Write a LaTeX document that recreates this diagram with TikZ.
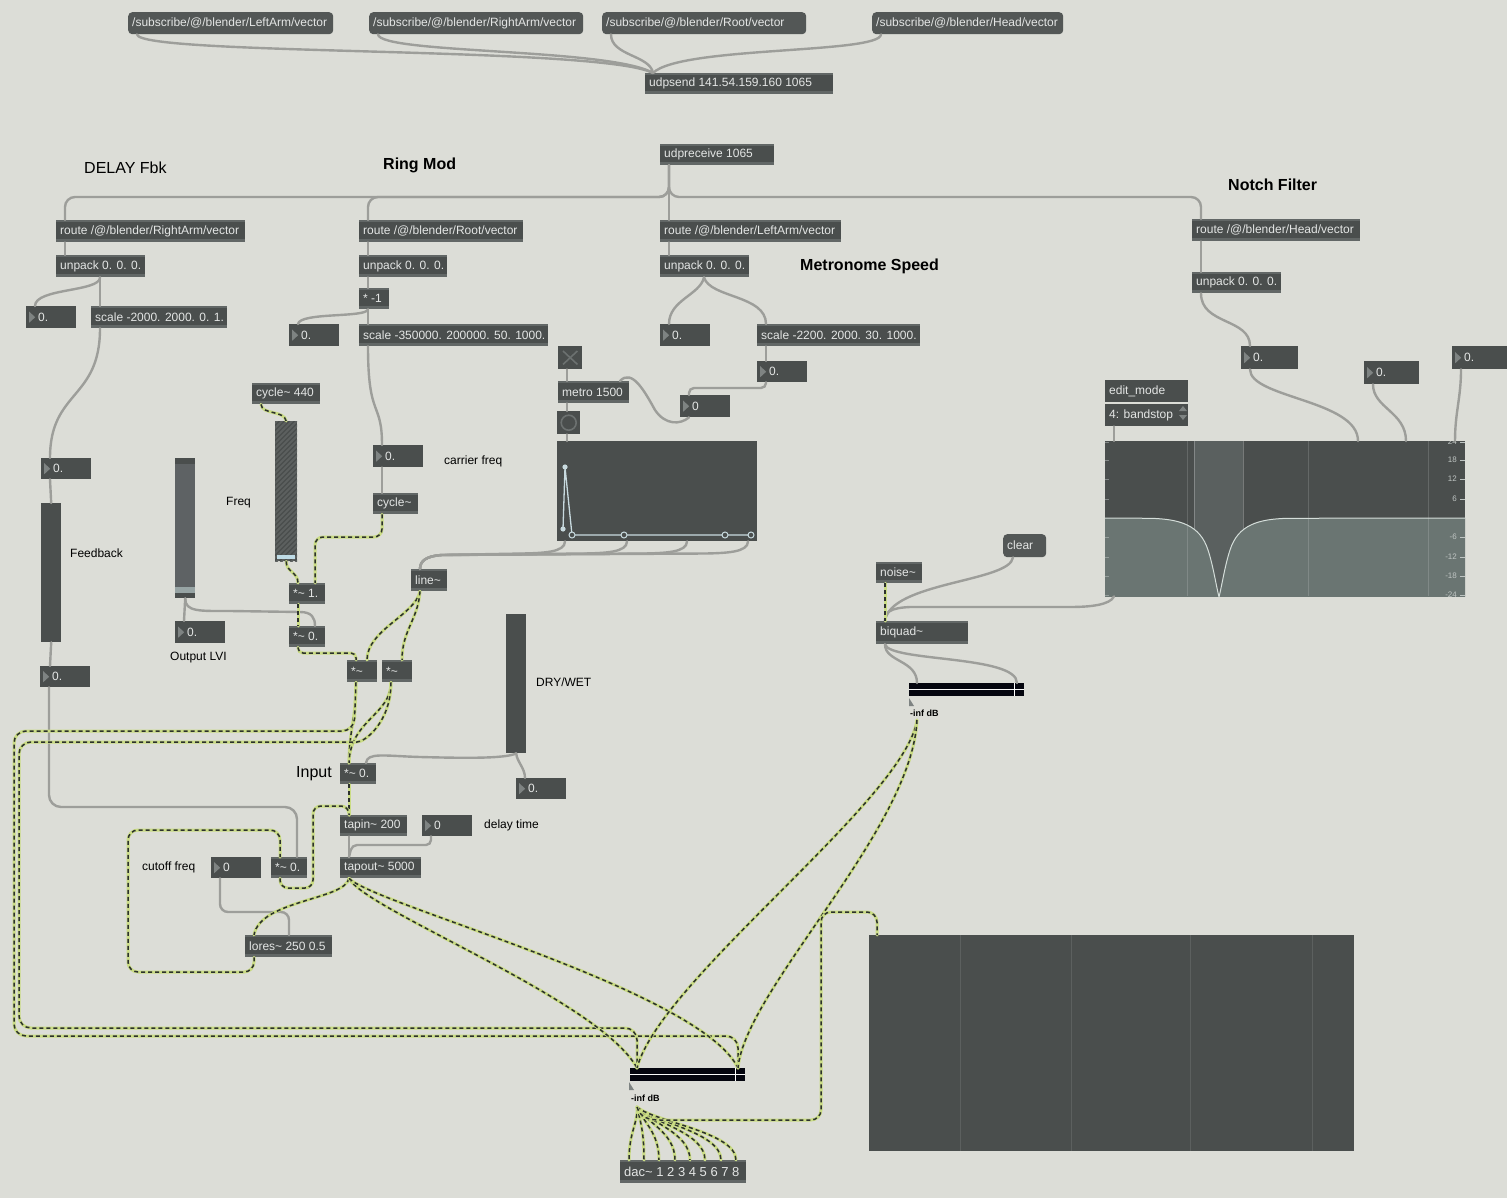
\documentclass[tikz,border=0pt]{standalone}
\usepackage{fontspec}
\setmainfont{Liberation Sans}
\definecolor{bgc}{HTML}{DCDDD7}
\definecolor{objc}{HTML}{4A4E4D}
\definecolor{stripc}{HTML}{626766}
\definecolor{msgc}{HTML}{535756}
\definecolor{txtc}{HTML}{E4E6E5}
\definecolor{tric}{HTML}{7E8382}
\definecolor{cordc}{HTML}{9D9E9A}
\definecolor{sigl}{HTML}{CADC84}
\definecolor{sigd}{HTML}{2C312D}
\definecolor{xc}{HTML}{6C7170}
\definecolor{mbar}{HTML}{05060F}
\definecolor{fgband}{HTML}{5A605F}
\definecolor{fglow}{HTML}{6A7572}
\definecolor{fgcurve}{HTML}{D5DEDA}
\definecolor{fglab}{HTML}{BFC5C3}
\definecolor{ptc}{HTML}{C8DADF}
\definecolor{slbody}{HTML}{5E6264}
\definecolor{slthumb}{HTML}{97A4A4}
\definecolor{thumbb}{HTML}{BFDCE6}
\definecolor{stripe}{HTML}{5C605F}
\definecolor{gridc}{HTML}{5C6261}
\newcommand\objfont{\fontsize{12}{14}\selectfont}
\newcommand\tld{\char`\~}
\tikzset{
 obj/.style={anchor=north west, inner sep=0pt, fill=objc, path picture={
   \fill[stripc] (path picture bounding box.north west) rectangle ([yshift=-2pt]path picture bounding box.north east);
   \fill[stripc] ([yshift=3pt]path picture bounding box.south west) rectangle (path picture bounding box.south east);}},
 num/.style={anchor=north west, inner sep=0pt, fill=objc, path picture={
   \fill[tric] ([xshift=3pt,yshift=5.5pt]path picture bounding box.west) -- ++(6pt,-5.5pt) -- ++(-6pt,-5.5pt) -- cycle;}},
 msg/.style={anchor=north west, inner sep=0pt, fill=msgc, rounded corners=4pt},
 plain/.style={anchor=north west, inner sep=0pt, fill=objc},
 otxt/.style={anchor=west, text=txtc, font=\objfont, inner xsep=4pt, inner ysep=0pt},
 ntxt/.style={otxt, xshift=8pt},
 cmt/.style={anchor=west, inner sep=0pt, text=black, font=\objfont},
 big/.style={cmt, font=\fontsize{16}{19}\selectfont},
 bigb/.style={cmt, font=\fontsize{16}{19}\selectfont\bfseries},
 dbl/.style={cmt, font=\fontsize{9}{10}\selectfont\bfseries},
 pc/.style={draw=cordc, line width=2.4pt, line cap=round},
 sig/.style={draw=sigl, line width=3pt, line cap=round, postaction={draw=sigd, line width=1.5pt, dash pattern=on 4pt off 3pt, line cap=butt}},
}
\newcommand\Obj[6]{\node[obj,minimum width=#4pt,minimum height=#5pt,label={[otxt]west:{#6}}] (#1) at (#2,#3) {};}
\newcommand\Num[6]{\node[num,minimum width=#4pt,minimum height=#5pt,label={[ntxt]west:{#6}}] (#1) at (#2,#3) {};}
\newcommand\Msg[6]{\node[msg,minimum width=#4pt,minimum height=#5pt,label={[otxt]west:{#6}}] (#1) at (#2,#3) {};}
\newcommand\PlT[6]{\node[plain,minimum width=#4pt,minimum height=#5pt,label={[otxt]west:{#6}}] (#1) at (#2,#3) {};}
\newcommand\Pl[5]{\node[plain,minimum width=#4pt,minimum height=#5pt] (#1) at (#2,#3) {};}
\begin{document}
\begin{tikzpicture}[x=1pt,y=-1pt]
\useasboundingbox (0,0) rectangle (1507,1198);
\fill[bgc] (0,0) rectangle (1507,1198);

% ---------- comments
\node[big] (lDelay) at (84,168) {DELAY Fbk};
\node[bigb] (lRing) at (383,165) {Ring Mod};
\node[bigb] (lMetro) at (800,266) {Metronome Speed};
\node[bigb] (lNotch) at (1228,185) {Notch Filter};
\node[cmt] (lFb) at (70,553) {Feedback};
\node[cmt] (lFreq) at (226,503) {Freq};
\node[cmt] (lOut) at (170,658) {Output LVI};
\node[cmt] (lCar) at (444,461) {carrier freq};
\node[cmt] (lDW) at (536,682) {DRY/WET};
\node[big] (lIn) at (296,774) {Input};
\node[cmt] (lDel) at (484,825) {delay time};
\node[cmt] (lCut) at (142,867) {cutoff freq};

% ---------- top
\Msg{m1}{128}{12}{205}{22}{/subscribe/@/blender/LeftArm/vector}
\Msg{m2}{369}{12}{214}{22}{/subscribe/@/blender/RightArm/vector}
\Msg{m3}{602}{12}{204}{22}{/subscribe/@/blender/Root/vector}
\Msg{m4}{872}{12}{191}{22}{/subscribe/@/blender/Head/vector}
\Obj{udps}{645}{73}{188}{21}{udpsend 141.54.159.160 1065}
\Obj{udpr}{660}{144}{114}{21}{udpreceive 1065}
\Obj{r1}{56}{220}{189}{22}{route /@/blender/RightArm/vector}
\Obj{r2}{359}{220}{164}{22}{route /@/blender/Root/vector}
\Obj{r3}{660}{220}{181}{22}{route /@/blender/LeftArm/vector}
\Obj{r4}{1192}{219}{168}{22}{route /@/blender/Head/vector}
\Obj{u1}{56}{255}{89}{22}{unpack 0. 0. 0.}
\Obj{u2}{359}{255}{88}{22}{unpack 0. 0. 0.}
\Obj{u3}{660}{255}{89}{22}{unpack 0. 0. 0.}
\Obj{u4}{1192}{272}{89}{21}{unpack 0. 0. 0.}

% ---------- delay column
\Num{nL}{26}{306}{50}{22}{0.}
\Obj{sc1}{91}{306}{136}{22}{scale -2000. 2000. 0. 1.}
\Num{nFb1}{41}{458}{50}{21}{0.}
\Pl{slFb}{41}{503}{20}{139}
\Num{nFb2}{40}{666}{50}{21}{0.}

% ---------- ring mod
\Obj{neg}{359}{288}{30}{21}{* -1}
\Num{nR}{289}{324}{50}{22}{0.}
\Obj{sc2}{359}{324}{189}{22}{scale -350000. 200000. 50. 1000.}
\Num{nCar}{373}{445}{50}{22}{0.}
\Obj{cyc}{373}{493}{45}{21}{cycle\tld}
\Obj{cyc440}{252}{383}{68}{21}{cycle\tld{} 440}
\Pl{slFreq}{275}{421}{22}{140}
\begin{scope}
\clip (275,421) rectangle (297,561);
\foreach \k in {0,...,34} \draw[stripe, line width=1.8pt] (272,{\k*5+421}) -- ++(28,-28);
\end{scope}
\fill[thumbb] (277,555) rectangle (295,559);
\node[plain, fill=slbody, minimum width=20pt, minimum height=140pt] (slOut) at (175,458) {};
\fill[objc] (175,458) rectangle (195,464);
\fill[slthumb] (175,587) rectangle (195,593);
\fill[objc] (175,593) rectangle (195,598);
\Num{nOut}{175}{621}{50}{22}{0.}
\Obj{mul1}{289}{583}{36}{21}{*\tld{} 1.}
\Obj{mul0}{289}{626}{36}{21}{*\tld{} 0.}
\Obj{line}{411}{569}{36}{22}{line\tld}
\Obj{ma}{347}{660}{30}{22}{*\tld}
\Obj{mb}{382}{660}{30}{22}{*\tld}
\Pl{slDW}{506}{614}{20}{139}
\Num{nDW}{516}{778}{50}{21}{0.}

% ---------- delay chain
\Obj{inp}{340}{763}{36}{21}{*\tld{} 0.}
\Obj{tapin}{340}{815}{67}{21}{tapin\tld{} 200}
\Num{nDel}{422}{815}{50}{21}{0}
\Obj{tapout}{340}{857}{81}{21}{tapout\tld{} 5000}
\Obj{mfb}{271}{857}{36}{21}{*\tld{} 0.}
\Num{nCut}{211}{857}{50}{21}{0}
\Obj{lores}{245}{935}{87}{22}{lores\tld{} 250 0.5}

% ---------- metronome
\Num{nM}{660}{324}{50}{22}{0.}
\Obj{sc3}{757}{324}{163}{22}{scale -2200. 2000. 30. 1000.}
\Num{nM2}{757}{361}{50}{21}{0.}
\Num{nM3}{680}{395}{50}{22}{0}
\Pl{tog}{558}{346}{24}{23}
\draw[xc, line width=1.6pt] ([shift={(5pt,-5pt)}]tog.north west) -- ([shift={(-5pt,5pt)}]tog.south east);
\draw[xc, line width=1.6pt] ([shift={(-5pt,-5pt)}]tog.north east) -- ([shift={(5pt,5pt)}]tog.south west);
\Obj{metro}{558}{381}{71}{22}{metro 1500}
\Pl{bang}{557}{411}{23}{23}
\draw[xc, line width=1.6pt] (bang.center) circle (7.5pt);
\Pl{fn}{557}{441}{200}{100}
\draw[ptc, line width=1.3pt] (563,529) -- (565,467) -- (572,535) -- (751,535);
\fill[ptc] (565,467) circle (2.6pt);
\fill[ptc] (563,529) circle (2.6pt);
\foreach \px in {572,624,725,751} \draw[ptc, fill=objc, line width=1pt] (\px,535) circle (3pt);

% ---------- notch filter
\Num{nA}{1241}{346}{57}{23}{0.}
\Num{nB}{1364}{361}{55}{23}{0.}
\Num{nC}{1452}{346}{60}{23}{0.}
\PlT{edit}{1105}{380}{83}{22}{edit\_mode}
\PlT{umenu}{1105}{404}{83}{22}{4: bandstop}
\fill[tric] (1179,411) -- (1183,406) -- (1187,411) -- cycle;
\fill[tric] (1179,415) -- (1183,420) -- (1187,415) -- cycle;
\Pl{fg}{1105}{441}{360}{155}
\begin{scope}
\clip (1105,441) rectangle (1465,596);
\fill[fgband] (1194,441) rectangle (1243,596);
\draw[white, opacity=0.25, line width=0.6pt] (1194,441)--(1194,596) (1243,441)--(1243,596);
\fill[fglow] (1105,518) -- (1150,518.3) .. controls (1180,519) and (1200,525) .. (1208,550) .. controls (1213,565) and (1216,585) .. (1219,597) .. controls (1222,585) and (1225,565) .. (1230,550) .. controls (1238,525) and (1258,519) .. (1288,518.3) -- (1465,518) -- (1465,597) -- (1105,597) -- cycle;
\draw[white, opacity=0.15, line width=0.8pt] (1187,441)--(1187,596) (1308,441)--(1308,596) (1428,441)--(1428,596);
\draw[fgcurve, line width=1pt] (1105,518) -- (1150,518.3) .. controls (1180,519) and (1200,525) .. (1208,550) .. controls (1213,565) and (1216,585) .. (1219,597) .. controls (1222,585) and (1225,565) .. (1230,550) .. controls (1238,525) and (1258,519) .. (1288,518.3) -- (1465,518);
\foreach \v/\yy [count=\i] in {24/442,18/460,12/479,6/499,-6/537,-12/557,-18/576,-24/595}{
  \node[anchor=east, font=\fontsize{8}{9}\selectfont, text=fglab, inner sep=0pt] (fgl\i) at (1457,\yy) {\v};
  \draw[fglab, line width=0.5pt] (1460,\yy) -- (1465,\yy);
  \draw[fglab, opacity=0.5, line width=0.5pt] (1105,\yy) -- (1109,\yy);
}
\end{scope}
\Msg{clear}{1003}{534}{43}{23}{clear}
\Obj{noise}{876}{562}{46}{21}{noise\tld}
\Obj{biquad}{876}{621}{92}{23}{biquad\tld}
\node[anchor=north west, inner sep=0pt, minimum width=115pt, minimum height=13pt, fill=white!85!bgc] (meter2) at (909,683) {};
\fill[mbar] (909,683) rectangle (1024,689);
\fill[mbar] (909,690) rectangle (1024,696);
\draw[white, line width=1pt] (1014,683) -- (1014,696);
\fill[tric] (909,698) -- (909,706) -- (914,706) -- cycle;
\node[dbl] (db2) at (910,713) {-inf dB};
\coordinate (m2out) at (917,720);

% ---------- bottom
\node[anchor=north west, inner sep=0pt, minimum width=115pt, minimum height=13pt, fill=white!85!bgc] (meter) at (630,1068) {};
\fill[mbar] (630,1068) rectangle (745,1074);
\fill[mbar] (630,1075) rectangle (745,1081);
\draw[white, line width=1pt] (735,1068) -- (735,1081);
\fill[tric] (629,1082) -- (629,1090) -- (634,1090) -- cycle;
\node[dbl] (db1) at (631,1098) {-inf dB};
\coordinate (mout) at (637,1107);
\node[obj,minimum width=126pt,minimum height=23pt,label={[otxt,font=\fontsize{13}{15}\selectfont]west:{dac\tld{} 1 2 3 4 5 6 7 8}}] (dac) at (620,1160) {};
\Pl{scope}{869}{935}{485}{216}
\foreach \gx in {960,1071,1190,1312} \draw[white, opacity=0.1, line width=1pt] (\gx,935) -- (\gx,1151);

% ================= patch cords
\draw[pc] ([xshift=9pt]m1.south west) .. controls (139,56) and (600,46) .. ([xshift=8pt]udps.north west);
\draw[pc] ([xshift=9pt]m2.south west) .. controls (380,54) and (610,48) .. ([xshift=8pt]udps.north west);
\draw[pc] ([xshift=9pt]m3.south west) .. controls (611,56) and (650,55) .. ([xshift=8pt]udps.north west);
\draw[pc] ([xshift=9pt]m4.south west) .. controls (880,54) and (680,46) .. ([xshift=8pt]udps.north west);

\draw[pc, rounded corners=10pt] ([xshift=9pt]udpr.south west) -- (669,197) -- (65,197) -- ([xshift=9pt]r1.north west);
\draw[pc, rounded corners=10pt] ([xshift=9pt]udpr.south west) -- (669,197) -- (368,197) -- ([xshift=9pt]r2.north west);
\draw[pc] ([xshift=9pt]udpr.south west) -- ([xshift=9pt]r3.north west);
\draw[pc, rounded corners=10pt] ([xshift=9pt]udpr.south west) -- (669,197) -- (1201,197) -- ([xshift=9pt]r4.north west);
\draw[pc] ([xshift=9pt]r1.south west) -- ([xshift=9pt]u1.north west);
\draw[pc] ([xshift=9pt]r2.south west) -- ([xshift=9pt]u2.north west);
\draw[pc] ([xshift=9pt]r3.south west) -- ([xshift=9pt]u3.north west);
\draw[pc] ([xshift=9pt]r4.south west) -- ([xshift=9pt]u4.north west);

\draw[pc] ([xshift=44pt]u1.south west) .. controls (100,292) and (35,288) .. ([xshift=9pt]nL.north west);
\draw[pc] ([xshift=44pt]u1.south west) -- ([xshift=9pt]sc1.north west);
\draw[pc] ([xshift=9pt]sc1.south west) .. controls (100,400) and (50,390) .. ([xshift=9pt]nFb1.north west);
\draw[pc] ([xshift=9pt]nFb1.south west) -- (slFb.north);
\draw[pc] (slFb.south) -- ([xshift=10pt]nFb2.north west);
\draw[pc, rounded corners=12pt] ([xshift=9pt]nFb2.south west) -- (49,807) -- (297,807) -- ([xshift=26pt]mfb.north west);

\draw[pc] ([xshift=9pt]u2.south west) -- ([xshift=9pt]neg.north west);
\draw[pc] ([xshift=9pt]neg.south west) .. controls (366,318) and (300,312) .. ([xshift=9pt]nR.north west);
\draw[pc] ([xshift=9pt]neg.south west) -- ([xshift=9pt]sc2.north west);
\draw[pc] ([xshift=9pt]sc2.south west) .. controls (368,420) and (382,400) .. ([xshift=9pt]nCar.north west);
\draw[pc] ([xshift=9pt]nCar.south west) -- ([xshift=9pt]cyc.north west);

\draw[pc] ([xshift=44pt]u3.south west) .. controls (700,295) and (669,300) .. ([xshift=9pt]nM.north west);
\draw[pc] ([xshift=44pt]u3.south west) .. controls (710,298) and (766,295) .. ([xshift=9pt]sc3.north west);
\draw[pc] ([xshift=9pt]sc3.south west) -- ([xshift=9pt]nM2.north west);
\draw[pc, rounded corners=5pt] ([xshift=9pt]nM2.south west) -- (766,388) -- (689,388) -- ([xshift=9pt]nM3.north west);
\draw[pc] ([xshift=9pt]nM3.south west) .. controls (680,425) and (665,425) .. (655,410) .. controls (645,392) and (632,368) .. ([xshift=62pt]metro.north west);
\draw[pc] ([xshift=9pt]tog.south west) -- ([xshift=9pt]metro.north west);
\draw[pc] ([xshift=9pt]metro.south west) -- ([xshift=10pt]bang.north west);
\draw[pc] ([xshift=10pt]bang.south west) -- ([xshift=10pt]fn.north west);
\foreach \ox in {8,70,130,191}
  \draw[pc] ([xshift=\ox pt]fn.south west) .. controls ++(0pt,-11pt) and (557+\ox-22,553) .. (557+\ox-42,553.5) -- (442,555) .. controls (426,556) and (420,561) .. ([xshift=9pt]line.north west);

\draw[pc] ([xshift=9pt]u4.south west) .. controls (1201,325) and (1250,318) .. ([xshift=9pt]nA.north west);
\draw[pc] ([xshift=9pt]nA.south west) .. controls (1250,398) and (1358,400) .. ([xshift=253pt]fg.north west);
\draw[pc] ([xshift=9pt]nB.south west) .. controls (1373,408) and (1406,412) .. ([xshift=301pt]fg.north west);
\draw[pc] ([xshift=9pt]nC.south west) .. controls (1461,398) and (1455,412) .. ([xshift=350pt]fg.north west);
\draw[pc] ([xshift=9pt]umenu.south west) -- ([xshift=9pt]fg.north west);
\draw[pc] ([xshift=9pt]fg.south west) .. controls (1110,605) and (1090,607) .. (1070,607) -- (910,607) .. controls (890,608) and (885,612) .. ([xshift=9pt]biquad.north west);
\draw[pc] ([xshift=10pt]clear.south west) .. controls (1010,582) and (890,582) .. ([xshift=9pt]biquad.north west);
\draw[pc] ([xshift=9pt]biquad.south west) .. controls (885,662) and (917,660) .. ([xshift=8pt]meter2.north west);
\draw[pc] ([xshift=9pt]biquad.south west) .. controls (890,662) and (1017,655) .. ([xshift=108pt]meter2.north west);

\draw[pc] (slOut.south) -- ([xshift=9pt]nOut.north west);
\draw[pc] (slOut.south) .. controls (185,612) and (200,611) .. (230,611) -- (300,612) .. controls (312,612) and (315,618) .. ([xshift=26pt]mul0.north west);
\draw[pc] (slDW.south) .. controls (505,759) and (460,758) .. (420,757) .. controls (385,756) and (367,752) .. ([xshift=26pt]inp.north west);
\draw[pc] (slDW.south) .. controls (517,762) and (525,768) .. ([xshift=9pt]nDW.north west);
\draw[pc] ([xshift=9pt]tapin.south west) -- ([xshift=9pt]tapout.north west);
\draw[pc, rounded corners=5pt] ([xshift=9pt]nDel.south west) -- (431,845) -- (352,845) -- ([xshift=9pt]tapout.north west);
\draw[pc, rounded corners=8pt] ([xshift=9pt]nCut.south west) -- (220,912) -- (289,912) -- ([xshift=44pt]lores.north west);

% ================= signal cords
\draw[sig] ([xshift=9pt]cyc440.south west) .. controls (262,415) and (284,410) .. (slFreq.north);
\draw[sig] (slFreq.south) .. controls (286,572) and (298,572) .. ([xshift=9pt]mul1.north west);
\draw[sig, rounded corners=8pt] ([xshift=9pt]cyc.south west) -- (382,537) -- (315,537) -- ([xshift=26pt]mul1.north west);
\draw[sig] ([xshift=9pt]mul1.south west) -- ([xshift=9pt]mul0.north west);
\draw[sig, rounded corners=5pt] ([xshift=9pt]mul0.south west) -- (298,653) -- (356,653) -- ([xshift=9pt]ma.north west);
\draw[sig] ([xshift=9pt]line.south west) .. controls (415,615) and (367,630) .. ([xshift=20pt]ma.north west);
\draw[sig] ([xshift=9pt]line.south west) .. controls (418,620) and (402,630) .. ([xshift=20pt]mb.north west);
\draw[sig] ([xshift=9pt]ma.south west) .. controls (356,720) and (349,730) .. ([xshift=9pt]inp.north west);
\draw[sig] ([xshift=9pt]mb.south west) .. controls (391,715) and (350,720) .. ([xshift=9pt]inp.north west);
\draw[sig, rounded corners=12pt] ([xshift=9pt]ma.south west) -- (354,731) -- (14,731) -- (14,1036) -- (738,1036) -- ([xshift=108pt]meter.north west);
\draw[sig, rounded corners=12pt] ([xshift=9pt]mb.south west) .. controls (391,722) and (365,742) .. (345,742) -- (19,742) -- (19,1028) -- (637,1028) -- ([xshift=7pt]meter.north west);
\draw[sig] ([xshift=9pt]inp.south west) -- ([xshift=9pt]tapin.north west);
\draw[sig, rounded corners=8pt] ([xshift=9pt]mfb.south west) -- (280,888) -- (313,888) -- (313,806) -- (349,806) -- ([xshift=9pt]tapin.north west);
\draw[sig] ([xshift=9pt]tapout.south west) .. controls (345,900) and (260,900) .. ([xshift=9pt]lores.north west);
\draw[sig, rounded corners=10pt] ([xshift=9pt]lores.south west) -- (254,972) -- (128,972) -- (128,830) -- (280,830) -- ([xshift=9pt]mfb.north west);
\draw[sig] ([xshift=9pt]tapout.south west) .. controls (365,910) and (600,1000) .. ([xshift=7pt]meter.north west);
\draw[sig] ([xshift=9pt]tapout.south west) .. controls (375,905) and (700,990) .. ([xshift=108pt]meter.north west);
\draw[sig] (m2out) .. controls (905,800) and (660,980) .. ([xshift=7pt]meter.north west);
\draw[sig] (m2out) .. controls (912,830) and (745,990) .. ([xshift=108pt]meter.north west);
\draw[sig] ([xshift=9pt]noise.south west) -- ([xshift=9pt]biquad.north west);
\foreach \dx in {9,24,39,55,70,85,101,116}
  \draw[sig] (mout) .. controls (637+\dx*0.15,1122) and (620+\dx,1132) .. ([xshift=\dx pt]dac.north west);
\draw[sig, rounded corners=10pt] (mout) .. controls (640,1118) and (650,1120) .. (670,1120) -- (821,1120) -- (821,912) -- (877,912) -- ([xshift=8pt]scope.north west);
\end{tikzpicture}
\end{document}
